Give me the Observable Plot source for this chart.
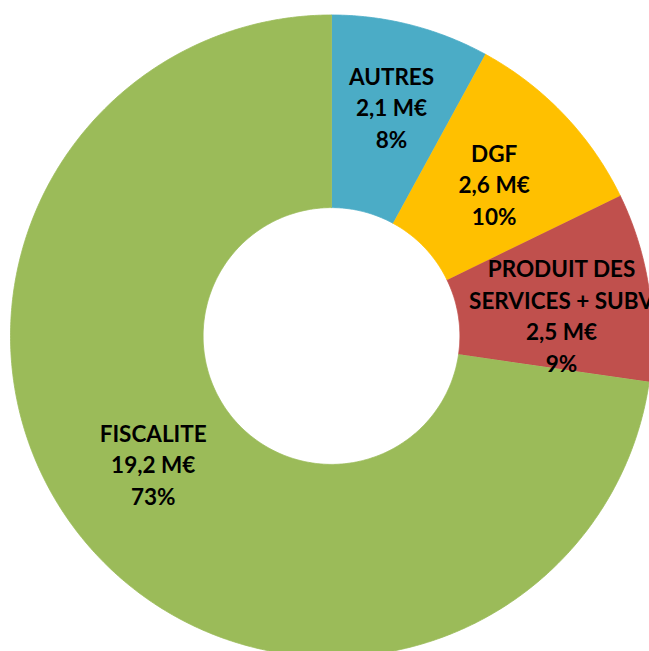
<!DOCTYPE html>
<html><head><meta charset="utf-8">
<script src="https://cdn.jsdelivr.net/npm/d3@7"></script>
<script src="https://cdn.jsdelivr.net/npm/@observablehq/plot@0.6"></script>
<style>html,body{margin:0;padding:0;background:#fff;overflow:hidden}</style>
</head><body><div id="chart"></div>
<script>
// ---- data ----
const categories = ["AUTRES", "DGF", "PRODUIT DES\nSERVICES + SUBV", "FISCALITE"];
const amounts = [2.1, 2.6, 2.5, 19.2]; // M€
const colors = ["#4BACC6", "#FFC000", "#C0504D", "#9BBB59"];

// ---- layout ----
const W = 649, H = 651;
const cx = 331, cy = 335.5, R = 321; // pixel centre and outer radius
const hole = 0.4;                     // inner radius as fraction of outer

const total = d3.sum(amounts);
const pie = d3.pie().sort(null).value(d => d)(amounts);
const fmtAmt = v => d3.format(".1f")(v).replace(".", ",") + " M€";
const fmtPct = v => Math.round(v / total * 100) + "%";

// slice outlines as polygons in unit coords (angle 0 = 12 o'clock, clockwise)
const pts = [];
pie.forEach((s, i) => {
  const n = Math.max(8, Math.ceil((s.endAngle - s.startAngle) / (Math.PI / 360)));
  for (let k = 0; k <= n; k++) {
    const a = s.startAngle + (s.endAngle - s.startAngle) * k / n;
    pts.push({key: categories[i], x: Math.sin(a), y: Math.cos(a)});
  }
  for (let k = n; k >= 0; k--) {
    const a = s.startAngle + (s.endAngle - s.startAngle) * k / n;
    pts.push({key: categories[i], x: hole * Math.sin(a), y: hole * Math.cos(a)});
  }
});

const labels = pie.map((s, i) => {
  const a = (s.startAngle + s.endAngle) / 2, rm = (1 + hole) / 2;
  return {key: categories[i], x: rm * Math.sin(a), y: rm * Math.cos(a),
          text: `${categories[i]}\n${fmtAmt(amounts[i])}\n${fmtPct(amounts[i])}`};
});
const offsets = [[4.5, -12], [0, 2], [8, 13], [-8.5, -20]];

const textOpts = {x: "x", y: "y", text: "text", fontFamily: "Lato", fontWeight: "bold",
  fontSize: 22.5, lineHeight: 1.4, fill: "#000", textAnchor: "middle"};

const chart = Plot.plot({
  width: W, height: H, margin: 0,
  style: {overflow: "hidden", background: "white"},
  x: {domain: [-cx / R, (W - cx) / R], axis: null},
  y: {domain: [-(H - cy) / R, cy / R], axis: null},
  color: {domain: categories, range: colors},
  marks: [
    Plot.line(pts, {x: "x", y: "y", z: "key", fill: "key", stroke: "key", strokeWidth: 0.8, curve: "linear"}),
    ...labels.map((l, i) => Plot.text([l], {...textOpts, dx: offsets[i][0], dy: offsets[i][1]}))
  ]
});
document.getElementById("chart").appendChild(chart);
</script>
</body></html>
